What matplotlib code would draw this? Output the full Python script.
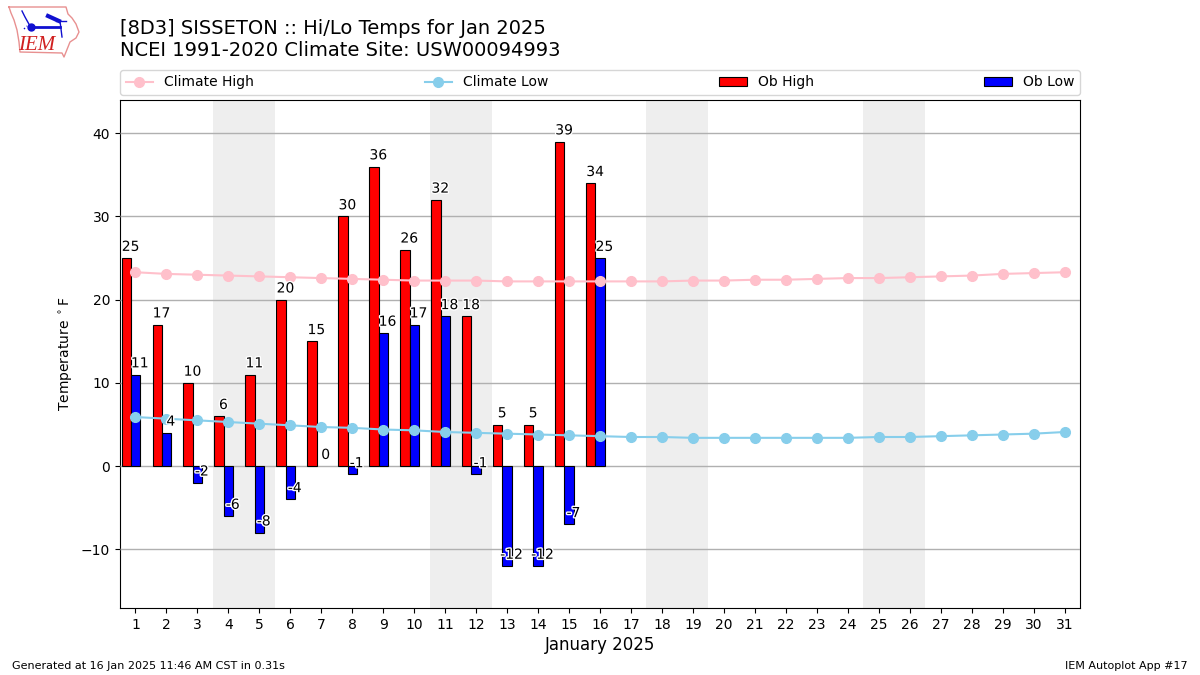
import numpy as np
import matplotlib
matplotlib.use("Agg")
import matplotlib.pyplot as plt
import matplotlib.patheffects as PathEffects

days = np.arange(1, 32)
ob_high = [25, 17, 10, 6, 11, 20, 15, 30, 36, 26, 32, 18, 5, 5, 39, 34]
ob_low = [11, 4, -2, -6, -8, -4, 0, -1, 16, 17, 18, -1, -12, -12, -7, 25]
climate_high = [23.3, 23.1, 23.0, 22.9, 22.8, 22.7, 22.6, 22.5, 22.4, 22.3, 22.3,
                22.3, 22.2, 22.2, 22.2, 22.2, 22.2, 22.2, 22.3, 22.3, 22.4, 22.4,
                22.5, 22.6, 22.6, 22.7, 22.8, 22.9, 23.1, 23.2, 23.3]
climate_low = [5.9, 5.7, 5.5, 5.3, 5.1, 4.9, 4.7, 4.6, 4.4, 4.3, 4.1, 4.0, 3.9,
               3.8, 3.7, 3.6, 3.5, 3.5, 3.4, 3.4, 3.4, 3.4, 3.4, 3.4, 3.5, 3.5,
               3.6, 3.7, 3.8, 3.9, 4.1]
weekend_starts = [4, 11, 18, 25]

fig = plt.figure(figsize=(12, 6.75), dpi=100)
ax = fig.add_axes([120 / 1200, 1 - 608 / 675, 960 / 1200, 508 / 675])

# weekends
for d in weekend_starts:
    ax.axvspan(d - 0.5, d + 1.5, color="#eeeeee", lw=0, zorder=1)

ax.grid(axis="y", color="#b0b0b0", lw=1, zorder=2)
ax.set_axisbelow(False)

ob_days = days[:len(ob_high)]
ax.bar(ob_days - 0.45, ob_high, width=0.3, align="edge", color="r", edgecolor="k",
       lw=0.8, label="Ob High", zorder=3)
# a zero height bar leaves no mark in the reference
low_widths = [0 if v == 0 else 0.8 for v in ob_low]
ax.bar(ob_days - 0.15, ob_low, width=0.3, align="edge", color="b", edgecolor="k",
       lw=low_widths, label="Ob Low", zorder=3)

ax.plot(days, climate_high, color="pink", marker="o", lw=1.5, ms=7, label="Climate High", zorder=4)
ax.plot(days, climate_low, color="skyblue", marker="o", lw=1.5, ms=7, label="Climate Low", zorder=4)

# value labels
stroke = [PathEffects.withStroke(linewidth=2, foreground="white")]
for d, hi, lo in zip(ob_days, ob_high, ob_low):
    ax.text(d - 0.16, hi + 1.35, str(hi), ha="center", va="center", fontsize=10,
            path_effects=stroke, zorder=5)
    ax.text(d + 0.14, lo + 1.35, str(lo), ha="center", va="center", fontsize=10,
            path_effects=stroke, zorder=5)

ax.set_xlim(0.5, 31.5)
ax.set_ylim(-17.05, 44)
ax.set_xticks(days)
ax.tick_params(labelsize=10)
ax.set_xlabel("January 2025", fontsize=12, labelpad=3)
ax.set_ylabel(r"Temperature $^\circ$F", fontsize=10)

# legend strip above the axes, same order as the reference
handles, labels = ax.get_legend_handles_labels()
order = [labels.index(n) for n in ["Climate High", "Climate Low", "Ob High", "Ob Low"]]
ax.legend([handles[i] for i in order], [labels[i] for i in order], ncol=4, mode="expand",
          loc="lower left", bbox_to_anchor=(0, 1.0, 1, 0.102), borderaxespad=0, fontsize=10)
leg = ax.get_legend()
leg.set_bbox_to_anchor((0, 1 + 5 / 508, 1, 0.05), transform=ax.transAxes)

fig.text(120 / 1200, 1 - 29 / 675, "[8D3] SISSETON :: Hi/Lo Temps for Jan 2025", fontsize=14, va="center")
fig.text(120 / 1200, 1 - 51 / 675, "NCEI 1991-2020 Climate Site: USW00094993", fontsize=14, va="center")
fig.text(12 / 1200, 1 - 666 / 675, "Generated at 16 Jan 2025 11:46 AM CST in 0.31s", fontsize=8, va="center")
fig.text(1188 / 1200, 1 - 666 / 675, "IEM Autoplot App #17", fontsize=8, va="center", ha="right")

# rough IEM logo, drawn in pixel coordinates
logo = fig.add_axes([0, 1 - 60 / 675, 90 / 1200, 60 / 675])
logo.set_xlim(0, 90)
logo.set_ylim(60, 0)
logo.axis("off")
outline_x = [9, 66, 68, 72, 76, 79, 76, 70, 68, 66, 64, 62, 20, 19, 17, 14, 11, 9]
outline_y = [7, 7, 14, 18, 24, 32, 38, 42, 47, 52, 57, 53, 52, 42, 30, 20, 13, 7]
logo.plot(outline_x, outline_y, color="#e89090", lw=1)
logo.plot([31, 60], [27, 27], color="#1010d0", lw=2)
logo.plot([22, 25, 30], [11, 17, 26], color="#1010d0", lw=1)
logo.plot([48, 59], [16, 21], color="#1010d0", lw=3)
logo.plot([60, 62], [21, 37], color="#1010d0", lw=1)
logo.plot([56, 66], [21, 21], color="#1010d0", lw=1)
logo.plot([31], [27], marker="o", color="#1010d0", ms=5)
logo.plot([24, 27], [29, 26], color="#1010d0", lw=1, ls=":")
logo.text(37, 45, "IEM", color="#d02020", fontsize=15, family="Liberation Serif",
          style="italic", ha="center", va="center")

fig.savefig("out.png", dpi=100)
